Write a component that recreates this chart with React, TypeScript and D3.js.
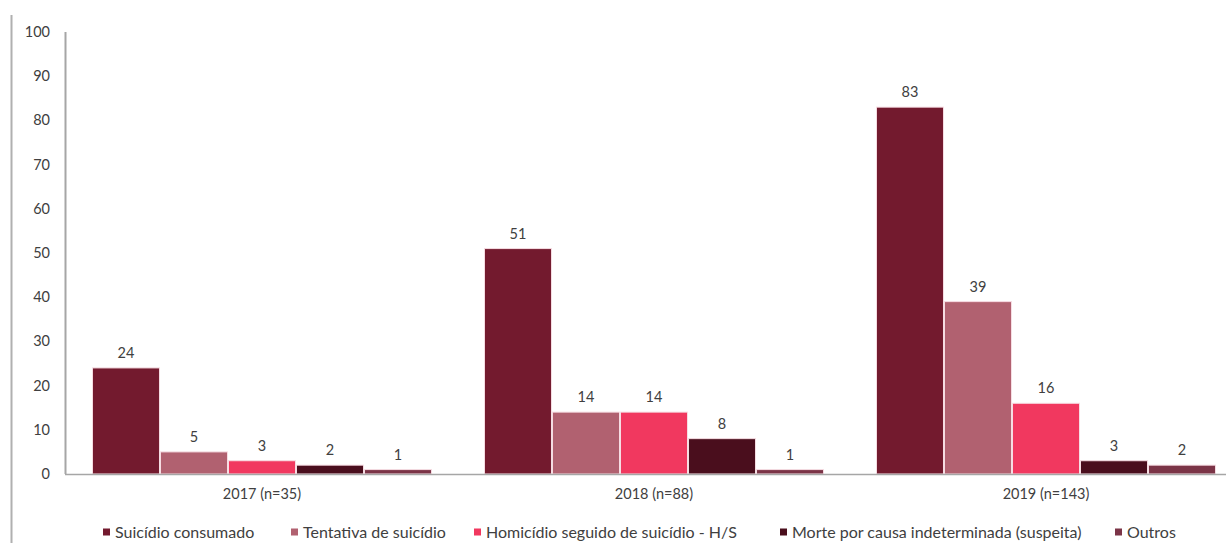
import React, { useEffect, useRef } from "react";
import * as d3 from "d3";

const years = ["2017 (n=35)", "2018 (n=88)", "2019 (n=143)"];
const seriesNames = [
  "Suicídio consumado",
  "Tentativa de suicídio",
  "Homicídio seguido de suicídio - H/S",
  "Morte por causa indeterminada (suspeita)",
  "Outros",
];
const suicidioConsumado = [24, 51, 83];
const tentativa = [5, 14, 39];
const homicidio = [3, 14, 16];
const morte = [2, 8, 3];
const outros = [1, 1, 2];
const yTicks = [0, 10, 20, 30, 40, 50, 60, 70, 80, 90, 100];

const seriesValues = [suicidioConsumado, tentativa, homicidio, morte, outros];
const colors = ["#731a2e", "#b16170", "#f1385f", "#4a0e1d", "#7b3447"];

const W = 1228;
const H = 543;
const FONT = "Lato, 'Open Sans', sans-serif";

export default function App() {
  const ref = useRef<SVGSVGElement>(null);

  useEffect(() => {
    const svg = d3.select(ref.current);
    svg.selectAll("*").remove();

    const y = d3.scaleLinear().domain([0, 100]).range([474, 32]);
    const x0 = d3.scaleBand<string>().domain(years).range([66, 1242]).padding(0);
    const x1 = d3
      .scaleBand<string>()
      .domain(seriesNames)
      .range([0, x0.bandwidth()])
      .paddingInner(0)
      .paddingOuter(0.382);

    // outer frame line
    svg
      .append("line")
      .attr("x1", 11.5)
      .attr("x2", 11.5)
      .attr("y1", 15)
      .attr("y2", H)
      .attr("stroke", "#b0b0b0")
      .attr("stroke-width", 2);

    // y axis line
    svg
      .append("line")
      .attr("x1", 65.5)
      .attr("x2", 65.5)
      .attr("y1", y(100))
      .attr("y2", y(0))
      .attr("stroke", "#a6a6a6")
      .attr("stroke-width", 2);

    // y tick labels
    svg
      .append("g")
      .selectAll("text")
      .data(yTicks)
      .join("text")
      .attr("x", 50)
      .attr("y", (d) => y(d))
      .attr("dy", "0.35em")
      .attr("text-anchor", "end")
      .attr("font-family", FONT)
      .attr("font-size", 14.5)
      .attr("fill", "#404040")
      .text((d) => String(d));

    // bars
    const groups = svg
      .append("g")
      .selectAll("g")
      .data(years)
      .join("g")
      .attr("transform", (d) => `translate(${x0(d)},0)`);

    groups.each(function (year, yi) {
      const g = d3.select(this);
      seriesNames.forEach((s, si) => {
        const v = seriesValues[si][yi];
        g.append("rect")
          .attr("x", x1(s)! + 0.5)
          .attr("y", y(v))
          .attr("width", x1.bandwidth() - 1)
          .attr("height", y(0) - y(v))
          .attr("fill", colors[si])
          .attr("stroke", "#f6dde3")
          .attr("stroke-width", 1);
        g.append("text")
          .attr("x", x1(s)! + x1.bandwidth() / 2)
          .attr("y", y(v) - 10)
          .attr("text-anchor", "middle")
          .attr("font-family", FONT)
          .attr("font-size", 14.5)
          .attr("fill", "#404040")
          .text(String(v));
      });
    });

    // baseline
    svg
      .append("line")
      .attr("x1", 65)
      .attr("x2", 1226)
      .attr("y1", y(0) + 0.5)
      .attr("y2", y(0) + 0.5)
      .attr("stroke", "#a6a6a6")
      .attr("stroke-width", 1.5);

    // x labels
    svg
      .append("g")
      .selectAll("text")
      .data(years)
      .join("text")
      .attr("x", (d) => x0(d)! + x0.bandwidth() / 2)
      .attr("y", 499)
      .attr("text-anchor", "middle")
      .attr("font-family", FONT)
      .attr("font-size", 14.5)
      .attr("fill", "#404040")
      .text((d) => d);

    // legend
    const legendX = [103, 291, 474, 780, 1115];
    const lg = svg.append("g");
    seriesNames.forEach((s, i) => {
      lg.append("rect")
        .attr("x", legendX[i])
        .attr("y", 528.5)
        .attr("width", 7)
        .attr("height", 7)
        .attr("fill", colors[i]);
      lg.append("text")
        .attr("x", legendX[i] + 12)
        .attr("y", 532)
        .attr("dy", "0.35em")
        .attr("font-family", FONT)
        .attr("font-size", 16)
        .attr("fill", "#404040")
        .text(s);
    });
  }, []);

  return (
    <div style={{ position: "fixed", left: 0, top: 0, background: "#fff" }}>
      <svg ref={ref} width={W} height={H} style={{ display: "block" }} />
    </div>
  );
}
